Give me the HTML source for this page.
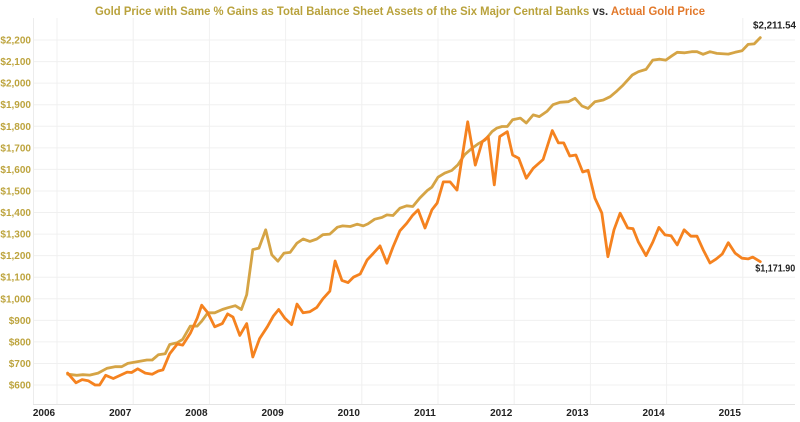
<!DOCTYPE html>
<html><head><meta charset="utf-8"><style>
html,body{margin:0;padding:0;background:#fff;}
svg{display:block;font-family:"Liberation Sans",sans-serif;}
</style></head><body>
<svg id="chart" width="800" height="422" viewBox="0 0 800 422">
<text x="400" y="15" text-anchor="middle" font-size="11.5" font-weight="bold" textLength="610" lengthAdjust="spacingAndGlyphs"><tspan fill="#b9a23c">Gold Price with Same % Gains as Total Balance Sheet Assets of the Six Major Central Banks </tspan><tspan fill="#333">vs. </tspan><tspan fill="#e2782a">Actual Gold Price</tspan></text>
<g id="grid"></g>
<g id="axes"></g>
<g id="series"></g>
</svg>
<script>
const yTicks=[600,700,800,900,1000,1100,1200,1300,1400,1500,1600,1700,1800,1900,2000,2100,2200];
const xTicks=[2006,2007,2008,2009,2010,2011,2012,2013,2014,2015];
const bsYears=[.31,.43,.51,.60,.71,.83,.93,1.02,1.10,1.22,1.35,1.42,1.50,1.59,1.65,1.75,1.82,1.92,2.01,2.07,2.15,2.24,2.34,2.41,2.51,2.59,2.66,2.74,2.82,2.91,2.99,3.07,3.15,3.23,3.32,3.40,3.49,3.58,3.66,3.75,3.85,3.92,4.02,4.11,4.19,4.25,4.34,4.44,4.50,4.58,4.67,4.76,4.84,4.93,5.03,5.09,5.17,5.26,5.35,5.43,5.52,5.62,5.70,5.79,5.88,5.94,6.01,6.08,6.15,6.25,6.33,6.42,6.50,6.60,6.68,6.77,6.88,6.97,7.06,7.14,7.23,7.34,7.43,7.52,7.60,7.72,7.80,7.90,7.99,8.08,8.16,8.24,8.31,8.41,8.50,8.57,8.65,8.74,8.83,8.98,9.07,9.16,9.24,9.32,9.40];
const bsValues=[650,645,648,646,655,678,685,685,700,708,716,716,740,745,788,796,812,873,873,896,935,935,950,958,968,950,1019,1228,1235,1320,1204,1174,1212,1215,1258,1277,1266,1277,1297,1300,1332,1338,1335,1346,1338,1347,1369,1378,1389,1386,1420,1431,1428,1467,1502,1518,1564,1583,1595,1621,1668,1699,1719,1737,1776,1791,1799,1799,1830,1838,1815,1853,1845,1869,1900,1911,1914,1930,1894,1883,1914,1922,1937,1964,1991,2038,2053,2064,2107,2111,2107,2127,2143,2141,2146,2146,2134,2146,2138,2135,2143,2150,2180,2182,2211.54];
const goldYears=[.31,.42,.50,.58,.67,.73,.81,.91,1.09,1.15,1.23,1.33,1.42,1.50,1.56,1.65,1.75,1.82,1.92,2.01,2.07,2.15,2.24,2.34,2.41,2.48,2.57,2.66,2.74,2.83,2.93,3.01,3.08,3.16,3.25,3.32,3.40,3.49,3.58,3.66,3.75,3.82,3.91,3.99,4.06,4.15,4.24,4.32,4.41,4.50,4.58,4.67,4.76,4.84,4.91,5.00,5.09,5.16,5.24,5.33,5.42,5.56,5.66,5.75,5.83,5.91,5.98,6.08,6.15,6.23,6.33,6.42,6.55,6.67,6.75,6.82,6.90,6.98,7.07,7.14,7.23,7.32,7.40,7.48,7.56,7.66,7.73,7.80,7.90,7.99,8.07,8.15,8.23,8.31,8.40,8.49,8.57,8.65,8.74,8.82,8.90,8.98,9.07,9.16,9.24,9.30,9.40];
const goldValues=[655,610,625,620,600,600,645,630,660,658,675,655,650,665,670,745,790,785,840,910,970,935,870,885,930,915,830,885,730,815,870,920,950,910,880,975,935,940,960,1000,1035,1175,1085,1075,1100,1115,1180,1210,1245,1165,1240,1315,1350,1388,1412,1328,1412,1444,1542,1542,1504,1821,1620,1728,1752,1528,1752,1775,1667,1652,1559,1605,1646,1780,1723,1723,1662,1667,1588,1596,1467,1398,1195,1320,1397,1328,1325,1263,1200,1263,1331,1296,1292,1250,1320,1290,1290,1228,1166,1184,1207,1260,1212,1188,1185,1193,1171.90];
const NS="http://www.w3.org/2000/svg";
const X=t=>44+(t-2006)*76.2;
const Y=v=>385-(v-600)*0.2156;
function mk(tag,attrs,parent){const e=document.createElementNS(NS,tag);for(const k in attrs)e.setAttribute(k,attrs[k]);parent.appendChild(e);return e;}
const grid=document.getElementById('grid'),axes=document.getElementById('axes'),ser=document.getElementById('series');
yTicks.forEach(v=>{
  const l=mk('line',{x1:33,x2:795,y1:Y(v),y2:Y(v),stroke:'#f0f0f0','stroke-width':1},grid);
  
  
  const t=mk('text',{x:31,y:Y(v)+3.5,'text-anchor':'end','font-size':10,'font-weight':'bold',fill:'#bda43e'},axes);
  t.textContent='$'+v.toLocaleString('en-US');
  
  
});
xTicks.forEach(y=>{
  const l=mk('line',{x1:X(y)+13,x2:X(y)+13,y1:18,y2:404,stroke:'#f0f0f0','stroke-width':1},grid);
  
  
  const t=mk('text',{x:X(y),y:416,'text-anchor':'middle','font-size':10,'font-weight':'bold',fill:'#222'},axes);
  t.textContent=y;
  
  
});
const ax=mk('line',{x1:33,x2:795,y1:404.5,y2:404.5,stroke:'#e4e4e4','stroke-width':1},axes);


const ay=mk('line',{x1:33.5,x2:33.5,y1:18,y2:404,stroke:'#ececec','stroke-width':1},axes);


function path(years,vals,color,name){
  const d=years.map((t,i)=>(i?'L':'M')+X(2006+t).toFixed(1)+','+Y(vals[i]).toFixed(1)).join('');
  const p=mk('path',{d:d,fill:'none',stroke:color,'stroke-width':2.8,'stroke-linejoin':'round','stroke-linecap':'round'},ser);
  
  
}
path(bsYears,bsValues,'#d5a445','balance-sheet-gold-line');
path(goldYears,goldValues,'#f5821f','actual-gold-line');
const fmt=v=>'$'+v.toLocaleString('en-US',{minimumFractionDigits:2,maximumFractionDigits:2});
const l1=mk('text',{x:796,y:Y(bsValues[bsValues.length-1])-9,'text-anchor':'end','font-size':10,'font-weight':'bold',fill:'#222',textLength:43,lengthAdjust:'spacingAndGlyphs'},ser);
l1.textContent=fmt(bsValues[bsValues.length-1]);


const l2=mk('text',{x:X(2006+goldYears[goldYears.length-1])+15,y:Y(goldValues[goldValues.length-1])+10,'text-anchor':'middle','font-size':10,'font-weight':'bold',fill:'#222',textLength:40,lengthAdjust:'spacingAndGlyphs'},ser);
l2.textContent=fmt(goldValues[goldValues.length-1]);


</script>
</body></html>
